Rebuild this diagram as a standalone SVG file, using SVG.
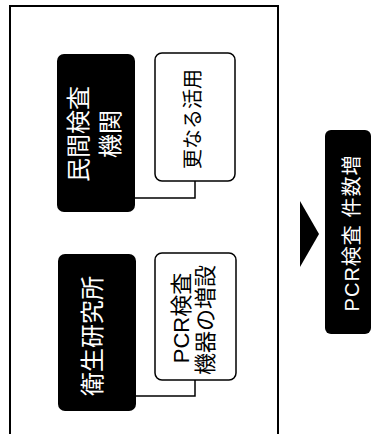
<svg xmlns="http://www.w3.org/2000/svg" width="372" height="434" viewBox="0 0 372 434">
<style>
  .dark { fill: #000; }
  .light { fill: #fff; stroke: #000; stroke-width: 1.5; }
  .t { font-family: "Liberation Sans", "Noto Sans CJK JP", sans-serif; text-anchor: middle; dominant-baseline: central; }
  .tw { fill: #fff; }
  .tb { fill: #000; }
  .conn { fill: none; stroke: #000; stroke-width: 1.5; }
</style>
<rect width="372" height="434" fill="#fff"/>
<g id="frame">
  <path d="M10,436 V6 H278 V436" fill="none" stroke="#000" stroke-width="2"/>
</g>
<g id="connectors">
  <path class="conn" d="M195,181 V198 H135"/>
  <path class="conn" d="M195,380 V396 H136"/>
</g>
<g id="minkan">
  <rect class="dark" x="57" y="54" width="78" height="158" rx="7"/>
  <text class="t tw" font-size="24" transform="rotate(-90 78.5 134)" x="78.5" y="134">民間検査</text>
  <text class="t tw" font-size="24" transform="rotate(-90 110 134)" x="110" y="134">機関</text>
</g>
<g id="sarani">
  <rect class="light" x="155" y="53" width="80" height="128" rx="7"/>
  <text class="t tb" font-size="20" transform="rotate(-90 193 119)" x="193" y="119">更なる活用</text>
</g>
<g id="eisei">
  <rect class="dark" x="58" y="254" width="78" height="157" rx="7"/>
  <text class="t tw" font-size="24" transform="rotate(-90 92.5 336)" x="92.5" y="336">衛生研究所</text>
</g>
<g id="pcr-kiki">
  <rect class="light" x="155" y="253" width="81" height="127" rx="7"/>
  <text class="t tb" font-size="22" transform="rotate(-90 181 318)" x="181" y="318">PCR検査</text>
  <text class="t tb" font-size="22" transform="rotate(-90 205 320)" x="205" y="320">機器の増設</text>
</g>
<g id="arrow">
  <polygon points="300,201 319,234 300,267" fill="#000"/>
</g>
<g id="result">
  <rect class="dark" x="325" y="130" width="46" height="204" rx="6"/>
  <text class="t tw" font-size="20" letter-spacing="1" transform="rotate(-90 352 233)" x="352" y="233">PCR検査 件数増</text>
</g>
</svg>
